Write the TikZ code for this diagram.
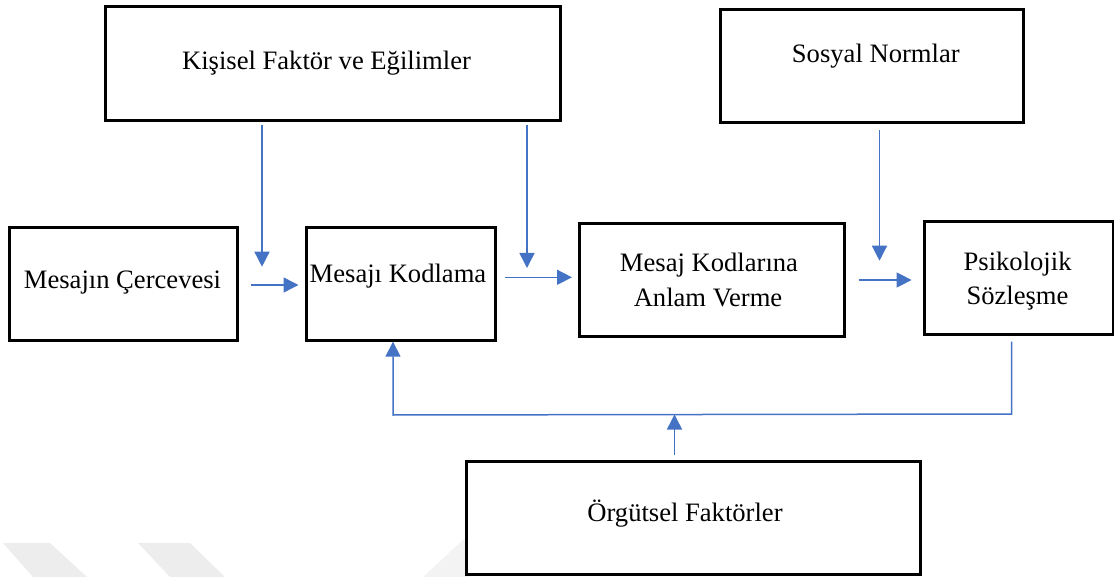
\documentclass[tikz,border=0pt]{standalone}
\usepackage{fontspec}
\setmainfont{Liberation Serif}
\usetikzlibrary{arrows.meta}
\definecolor{arrblue}{HTML}{4472C4}
\definecolor{wmgray}{HTML}{EDEDED}
\definecolor{wmlight}{HTML}{F3F3F3}
\begin{document}
\begin{tikzpicture}[x=1pt,y=-1pt,
  box/.style={draw=black,line width=3pt,fill=white,inner sep=0pt},
  lbl/.style={font=\fontsize{26.6}{35}\selectfont,anchor=base,inner sep=0pt},
  arr/.style={draw=arrblue,line width=1.5pt,-{Triangle[length=15pt,width=15pt]}}]
\useasboundingbox (0,0) rectangle (1114,577);
% faint watermark shapes
\fill[wmgray] (3,543) -- (50,543) -- (87,577) -- (33,577) -- cycle;
\fill[wmgray] (138,543) -- (190,543) -- (225,577) -- (170,577) -- cycle;
\fill[wmlight] (423,577) -- (463,540) -- (470,540) -- (470,577) -- cycle;
% boxes
\node[box,minimum width=455.5pt,minimum height=113.3pt] (kf) at (333,63.4) {};
\node[box,minimum width=303.3pt,minimum height=113.4pt] (sn) at (871.7,66) {};
\node[box,minimum width=227.7pt,minimum height=113.4pt] (mc) at (123.5,284) {};
\node[box,minimum width=189.6pt,minimum height=113.4pt] (mk) at (400.8,284) {};
\node[box,minimum width=265pt,minimum height=113.4pt] (ma) at (711.9,280) {};
\node[box,minimum width=189pt,minimum height=113.3pt] (ps) at (1018.5,278.3) {};
\node[box,minimum width=454pt,minimum height=113pt] (of) at (693,517.5) {};
% labels
\node[lbl] (kft) at (326.5,70) {Kişisel Faktör ve Eğilimler};
\node[lbl] (snt) at (875.8,63) {Sosyal Normlar};
\node[lbl] (mct) at (122.5,289) {Mesajın Çercevesi};
\node[lbl] (mkt) at (398,283) {Mesajı Kodlama};
\node[lbl] (mat1) at (709,272) {Mesaj Kodlarına};
\node[lbl] (mat2) at (708,307) {Anlam Verme};
\node[lbl] (pst1) at (1017.6,271) {Psikolojik};
\node[lbl] (pst2) at (1017.5,305) {Sözleşme};
\node[lbl] (oft) at (685,521.5) {Örgütsel Faktörler};
% connector end points
\coordinate (a1s) at (262,125);   \coordinate (a1e) at (262,266.7);
\coordinate (a2s) at (527,125);   \coordinate (a2e) at (527,268);
\coordinate (a3s) at (879.5,130); \coordinate (a3e) at (879.5,260.7);
\coordinate (h1s) at (250.7,285); \coordinate (h1e) at (298.5,285);
\coordinate (h2s) at (505,277.3); \coordinate (h2e) at (572,277.3);
\coordinate (h3s) at (858.6,280); \coordinate (h3e) at (911.6,280);
\coordinate (fb1) at (1011.6,341.7);
\coordinate (fb2) at (1011.6,414);
\coordinate (fb3) at (393,415);
\coordinate (fb4) at (393,341.7);
\coordinate (o1) at (674.5,455);  \coordinate (o2) at (674.5,414.5);
% connectors
\draw[arr] (a1s) -- (a1e);
\draw[arr] (a2s) -- (a2e);
\draw[arr] (a3s) -- (a3e);
\draw[arr] (h1s) -- (h1e);
\draw[arr] (h2s) -- (h2e);
\draw[arr] (h3s) -- (h3e);
\draw[arr] (fb1) -- (fb2) -- (fb3) -- (fb4);
\draw[arr] (o1) -- (o2);
\end{tikzpicture}
\end{document}
